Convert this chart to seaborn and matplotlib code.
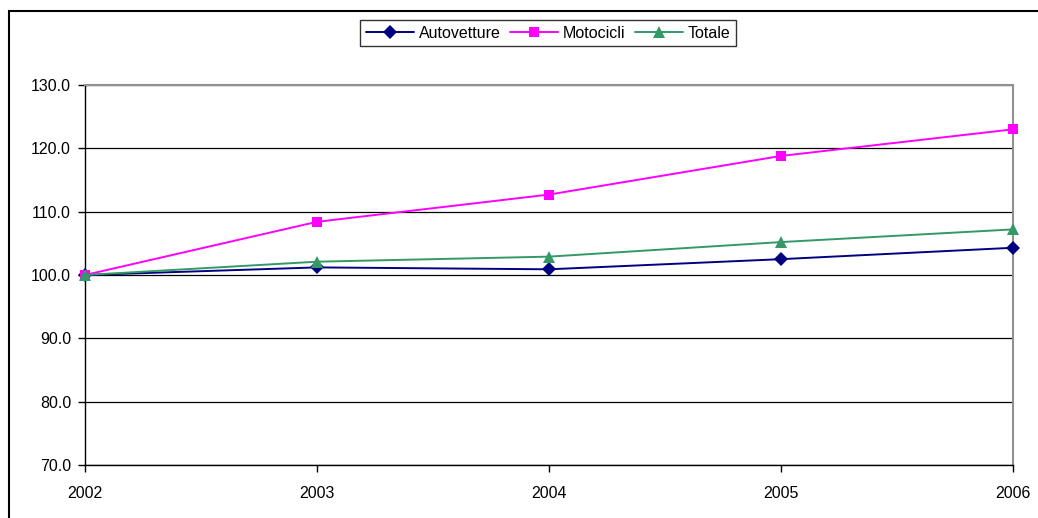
""" Indice parco veicoli 2002-2006 (2002 = 100)
"""

import numpy as np
import pandas as pd
import matplotlib
matplotlib.use('Agg')
import matplotlib.pyplot as plt
from matplotlib.patches import Rectangle
import seaborn as sns

years = [2002, 2003, 2004, 2005, 2006]
autovetture = [100.0, 101.2, 100.9, 102.5, 104.3]
motocicli = [100.0, 108.4, 112.7, 118.8, 123.0]
totale = [100.0, 102.1, 102.9, 105.2, 107.2]

series = ['Autovetture', 'Motocicli', 'Totale']
colors = {'Autovetture': '#000080', 'Motocicli': '#FF00FF', 'Totale': '#339966'}
markers = {'Autovetture': 'D', 'Motocicli': 's', 'Totale': '^'}
msizes = {'Autovetture': 7, 'Motocicli': 7, 'Totale': 9}

if __name__ == '__main__':

    df = pd.DataFrame({'anno': years,
                       'Autovetture': autovetture,
                       'Motocicli': motocicli,
                       'Totale': totale})
    df = df.melt(id_vars='anno', var_name='serie', value_name='indice')

    sns.set_style('white')
    plt.rcParams['font.family'] = ['Liberation Sans', 'DejaVu Sans']
    plt.rcParams['font.size'] = 11.5
    plt.rcParams['text.color'] = 'black'
    plt.rcParams['xtick.color'] = 'black'
    plt.rcParams['ytick.color'] = 'black'

    fig = plt.figure(figsize=(10.38, 5.18), dpi=100)
    ax = fig.add_axes([85 / 1038, 1 - 465 / 518, 928 / 1038, 380 / 518])

    sns.lineplot(data=df, x='anno', y='indice', hue='serie', style='serie',
                 hue_order=series, style_order=series,
                 palette=colors, markers=markers, dashes=False,
                 markersize=7, markeredgewidth=0, linewidth=1.4, ax=ax)
    for ln in ax.lines:
        ln.set_clip_on(False)
    # triangles a bit larger, as in the original
    for ln, s in zip(ax.lines, series):
        ln.set_markersize(msizes[s])
        ln.set_zorder(5)

    ax.set_xlim(2002, 2006)
    ax.set_ylim(70, 130)
    ax.set_xticks(years)
    ax.set_xticklabels([str(y) for y in years])
    ax.set_yticks(np.arange(70, 131, 10))
    ax.set_yticklabels(['{0:.1f}'.format(v) for v in np.arange(70, 131, 10)])
    ax.set_xlabel('')
    ax.set_ylabel('')

    # Excel-like grid and frame
    ax.grid(axis='y', color='#000000', lw=0.9)
    ax.grid(axis='x', visible=False)
    ax.set_axisbelow(True)
    for side in ['left', 'bottom']:
        ax.spines[side].set_color('black')
        ax.spines[side].set_linewidth(1.0)
    for side in ['top', 'right']:
        ax.spines[side].set_color('#909090')
        ax.spines[side].set_linewidth(1.5)
    ax.tick_params(axis='y', direction='out', length=5, width=1, color='black',
                   labelcolor='black', pad=5, labelsize=11.5)
    ax.tick_params(axis='x', direction='out', length=5, width=1, color='black',
                   labelcolor='black', pad=10, labelsize=11.5)
    ax.tick_params(left=True, bottom=True)

    handles, labels = ax.get_legend_handles_labels()
    for h, s in zip(handles, labels):
        h.set_markersize(msizes.get(s, 7))
    leg = ax.legend(handles, labels, loc='center',
                    bbox_to_anchor=(548 / 1038, 1 - 33 / 518),
                    bbox_transform=fig.transFigure, ncol=3, frameon=True,
                    fancybox=False, edgecolor='black', handlelength=3.0,
                    handletextpad=0.3, columnspacing=0.6, borderpad=0.35,
                    fontsize=11.5)
    leg.get_frame().set_linewidth(1.0)

    # outer chart border
    fig.patches.append(Rectangle((9 / 1038, -0.5), 2, 0.5 + 1 - 11 / 518,
                                 transform=fig.transFigure, fill=False,
                                 edgecolor='black', lw=1.5))

    plt.savefig('out.png', dpi=100)
